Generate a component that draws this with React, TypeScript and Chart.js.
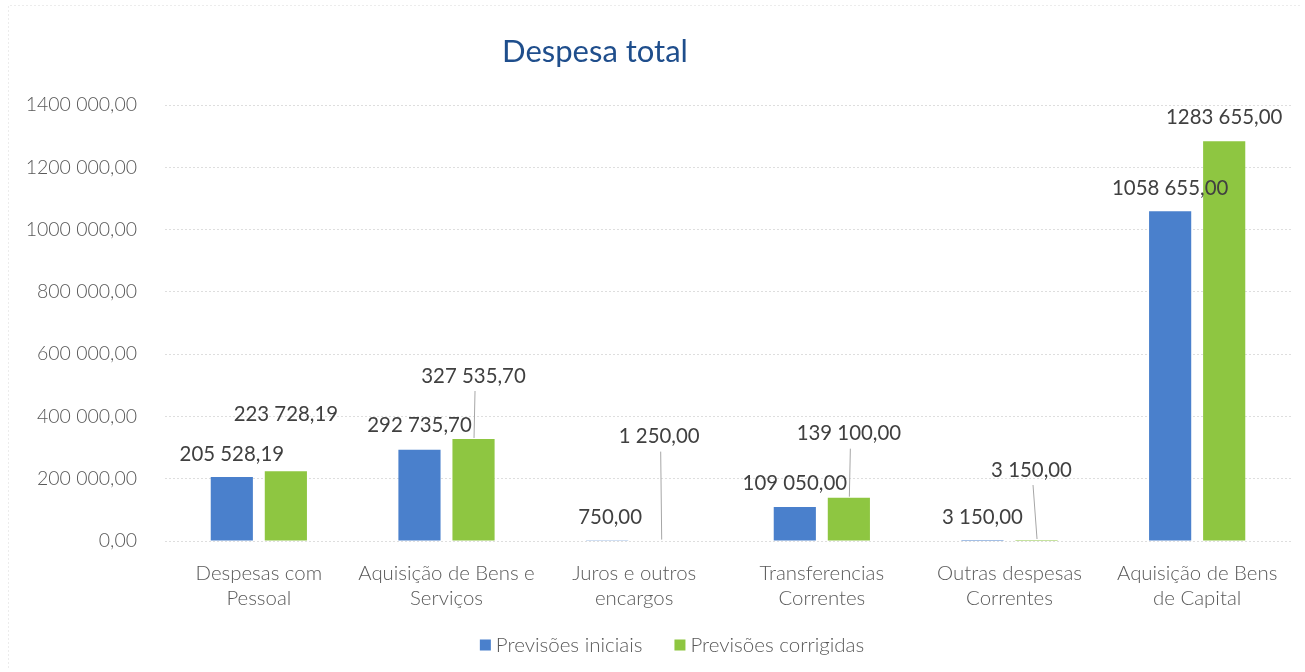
import React, { useEffect, useRef } from 'react';
import { Chart, registerables } from 'chart.js';

Chart.register(...registerables);

const chartTitle = 'Despesa total';
const categories: string[][] = [
  ['Despesas com', 'Pessoal'],
  ['Aquisição de Bens e', 'Serviços'],
  ['Juros e outros', 'encargos'],
  ['Transferencias', 'Correntes'],
  ['Outras despesas', 'Correntes'],
  ['Aquisição de Bens', 'de Capital'],
];
const seriesNames = ['Previsões iniciais', 'Previsões corrigidas'];
const previsoesIniciais = [205528.19, 292735.7, 750, 109050, 3150, 1058655];
const previsoesCorrigidas = [223728.19, 327535.7, 1250, 139100, 3150, 1283655];
const yTickValues = [0, 200000, 400000, 600000, 800000, 1000000, 1200000, 1400000];

// label placement styles (offsets from the bar top, in px)
const labelStyleIniciais = [
  { dx: 0, dy: -23, leader: false },
  { dx: 0, dy: -24, leader: false },
  { dx: 3, dy: -23, leader: false },
  { dx: 0, dy: -24, leader: false },
  { dx: 0, dy: -23, leader: false },
  { dx: 0, dy: -23, leader: false },
];
const labelStyleCorrigidas = [
  { dx: 0, dy: -57, leader: false },
  { dx: 0, dy: -63, leader: true },
  { dx: -2, dy: -104, leader: true },
  { dx: 0, dy: -64, leader: true },
  { dx: -5, dy: -70, leader: true },
  { dx: 0, dy: -24, leader: false },
];

const BLUE = '#4a80cc';
const GREEN = '#8ec641';
const FONT = 'Lato, "Open Sans", sans-serif';

function fmt(v: number): string {
  const [i, d] = Math.abs(v).toFixed(2).split('.');
  const ip = i.length > 3 ? i.slice(0, -3) + ' ' + i.slice(-3) : i;
  return ip + ',' + d;
}

const decorPlugin = {
  id: 'decor',
  afterDraw(chart: any) {
    const ctx = chart.ctx as CanvasRenderingContext2D;
    ctx.save();
    // faint frame
    ctx.strokeStyle = '#ececec';
    ctx.lineWidth = 1;
    ctx.setLineDash([2, 2]);
    ctx.beginPath();
    ctx.moveTo(8.5, 668);
    ctx.lineTo(8.5, 5.5);
    ctx.lineTo(1300, 5.5);
    ctx.stroke();
    ctx.setLineDash([]);

    // title
    ctx.fillStyle = '#1f4e8c';
    ctx.font = `31px ${FONT}`;
    ctx.textAlign = 'center';
    ctx.textBaseline = 'middle';
    ctx.fillText(chartTitle, 595, 52);

    // data labels
    const styles = [labelStyleIniciais, labelStyleCorrigidas];
    ctx.font = `20.4px ${FONT}`;
    chart.data.datasets.forEach((ds: any, di: number) => {
      const meta = chart.getDatasetMeta(di);
      meta.data.forEach((bar: any, i: number) => {
        const st = styles[di][i];
        const lx = bar.x + st.dx;
        const ly = bar.y + st.dy;
        if (st.leader) {
          ctx.strokeStyle = '#a6a6a6';
          ctx.lineWidth = 1;
          ctx.beginPath();
          ctx.moveTo(lx + 1.5, ly + 15);
          ctx.lineTo(bar.x + 0.5, bar.y - 1);
          ctx.stroke();
        }
        ctx.fillStyle = '#404040';
        ctx.textAlign = 'center';
        ctx.textBaseline = 'middle';
        ctx.fillText(fmt(ds.data[i]), lx, ly);
      });
    });

    // legend
    ctx.font = `300 20.5px ${FONT}`;
    const colors = [BLUE, GREEN];
    const box = 11, gapBoxText = 5, gapItems = 32;
    const widths = seriesNames.map((n) => ctx.measureText(n).width);
    const total = widths.reduce((a, w) => a + box + gapBoxText + w, 0) + gapItems;
    let x = 672 - total / 2;
    const cy = 645;
    seriesNames.forEach((n, k) => {
      ctx.fillStyle = colors[k];
      ctx.fillRect(x, cy - box / 2, box, box);
      x += box + gapBoxText;
      ctx.fillStyle = '#595959';
      ctx.textAlign = 'left';
      ctx.textBaseline = 'middle';
      ctx.fillText(n, x, cy);
      x += widths[k] + gapItems;
    });
    ctx.restore();
  },
};

export default function App() {
  const ref = useRef<HTMLCanvasElement | null>(null);
  useEffect(() => {
    document.body.style.margin = '0';
    const chart = new Chart(ref.current as HTMLCanvasElement, {
      type: 'bar',
      data: {
        labels: categories,
        datasets: [
          {
            label: seriesNames[0],
            data: previsoesIniciais,
            backgroundColor: BLUE,
            categoryPercentage: 0.576,
            barPercentage: 0.78,
          },
          {
            label: seriesNames[1],
            data: previsoesCorrigidas,
            backgroundColor: GREEN,
            categoryPercentage: 0.576,
            barPercentage: 0.78,
          },
        ],
      },
      options: {
        animation: false,
        responsive: false,
        maintainAspectRatio: false,
        layout: { padding: { top: 105, bottom: 0, left: 0, right: 14 } },
        plugins: {
          legend: { display: false },
          title: { display: false },
          tooltip: { enabled: false },
        },
        scales: {
          x: {
            grid: { display: false },
            border: { display: false },
            ticks: {
              color: '#595959',
              font: { family: FONT, size: 20.4, weight: '300', lineHeight: 1.22 },
              padding: 12,
              maxRotation: 0,
              autoSkip: false,
            },
            afterFit: (s: any) => {
              s.height = 131;
            },
          },
          y: {
            min: 0,
            max: 1400000,
            afterBuildTicks: (s: any) => {
              s.ticks = yTickValues.map((v) => ({ value: v }));
            },
            grid: { color: '#dedede', drawTicks: false, lineWidth: 1 },
            border: { display: false, dash: [2, 2] },
            ticks: {
              color: '#595959',
              font: { family: FONT, size: 19.5, weight: '300' },
              padding: 28,
              callback: (v: any) => fmt(Number(v)),
            },
            afterFit: (s: any) => {
              s.width = 165;
            },
          },
        },
      },
      plugins: [decorPlugin],
    } as any);
    return () => chart.destroy();
  }, []);
  return (
    <div style={{ position: 'absolute', left: 0, top: 0, width: 1305, height: 672, background: '#fff' }}>
      <canvas ref={ref} width={1305} height={672} style={{ width: 1305, height: 672 }} />
    </div>
  );
}
